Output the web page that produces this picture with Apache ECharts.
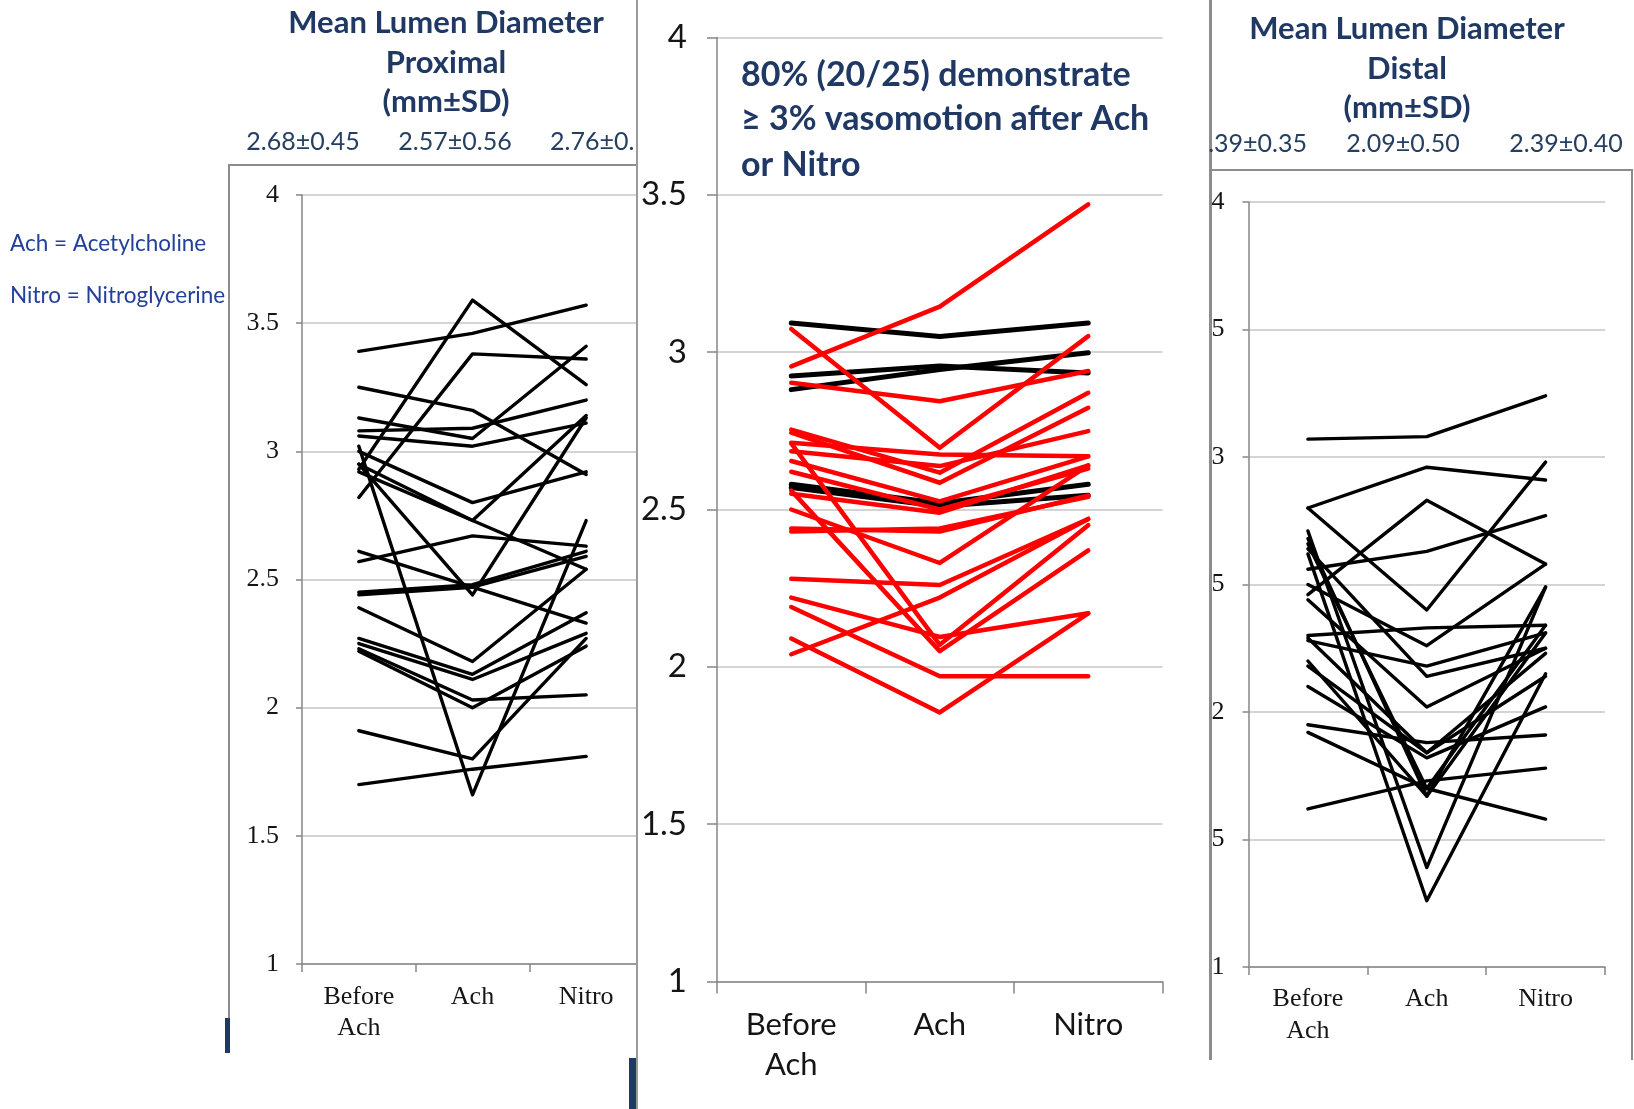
<!DOCTYPE html>
<html>
<head>
<meta charset="utf-8">
<script src="https://cdn.jsdelivr.net/npm/echarts/dist/echarts.min.js"></script>
<style>
  html, body { margin: 0; padding: 0; background: #fff; width: 1634px; height: 1109px; overflow: hidden; position: relative; }
  #proximal { position: absolute; left: 0; top: 0; width: 636px; height: 1109px; z-index: 1; }
  #response { position: absolute; left: 636px; top: 0; width: 573px; height: 1109px; z-index: 2; background: #fff; }
  #distal   { position: absolute; left: 1209px; top: 0; width: 425px; height: 1109px; z-index: 1; }
</style>
</head>
<body>
<div id="proximal"></div>
<div id="response"></div>
<div id="distal"></div>
<script>
// Measurement stages shared by all three panels
const stages = ['Before\nAch', 'Ach', 'Nitro'];

// Proximal segment, one entry per patient (mm)
const proxBefore = [3.39, 3.25, 3.13, 3.08, 3.06, 2.82, 2.93, 3.00, 2.95, 2.92, 2.95, 3.02, 2.61, 2.57, 2.45, 2.44, 2.39, 2.27, 2.25, 2.23, 2.22, 1.91, 1.70];
const proxAch    = [3.46, 3.16, 3.05, 3.09, 3.02, 3.38, 3.59, 2.80, 2.73, 2.73, 2.44, 1.66, 2.47, 2.67, 2.48, 2.47, 2.18, 2.13, 2.11, 2.03, 2.00, 1.80, 1.76];
const proxNitro  = [3.57, 2.91, 3.41, 3.20, 3.11, 3.36, 3.26, 2.92, 3.14, 2.54, 3.13, 2.73, 2.33, 2.63, 2.61, 2.59, 2.54, 2.37, 2.29, 2.05, 2.24, 2.27, 1.81];
const proxStats  = ['2.68\u00b10.45', '2.57\u00b10.56', '2.76\u00b10.'];

// Vasomotion panel: 1 = responder (>= 3% change), 0 = non-responder
const midBefore = [3.093, 2.924, 2.881, 2.955, 3.074, 2.903, 2.04, 2.09, 2.19, 2.22, 2.28, 2.43, 2.50, 2.71, 2.56, 2.44, 2.754, 2.744, 2.685, 2.654, 2.712, 2.55, 2.62, 2.58, 2.57];
const midAch    = [3.05, 2.956, 2.945, 3.145, 2.696, 2.844, 2.22, 1.855, 1.97, 2.095, 2.26, 2.44, 2.33, 2.07, 2.05, 2.43, 2.617, 2.585, 2.638, 2.526, 2.675, 2.49, 2.50, 2.52, 2.51];
const midNitro  = [3.093, 2.934, 2.998, 3.47, 3.051, 2.94, 2.47, 2.17, 1.97, 2.17, 2.47, 2.54, 2.64, 2.45, 2.37, 2.545, 2.871, 2.823, 2.749, 2.669, 2.669, 2.64, 2.63, 2.58, 2.545];
const responder = [0, 0, 0, 1, 1, 1, 1, 1, 1, 1, 1, 1, 1, 1, 1, 1, 1, 1, 1, 1, 1, 1, 1, 0, 0];
const midNote   = ['80% (20/25) demonstrate', '\u2265 3% vasomotion after Ach', 'or Nitro'];

// Distal segment, one entry per patient (mm)
const distBefore = [3.07, 2.80, 2.80, 2.46, 2.56, 2.71, 2.62, 2.50, 2.30, 2.28, 2.44, 2.18, 2.10, 1.95, 1.92, 1.62, 2.68, 2.66, 2.64, 2.20, 2.29];
const distAch    = [3.08, 2.96, 2.40, 2.83, 2.63, 1.39, 1.26, 2.26, 2.33, 2.18, 2.02, 1.84, 1.82, 1.88, 1.70, 1.73, 1.67, 1.70, 2.14, 1.67, 1.84];
const distNitro  = [3.24, 2.91, 2.98, 2.58, 2.77, 2.49, 2.15, 2.58, 2.34, 2.31, 2.25, 2.23, 2.02, 1.91, 1.58, 1.78, 2.49, 2.34, 2.25, 2.31, 2.14];
const distStats  = ['2.39\u00b10.35', '2.09\u00b10.50', '2.39\u00b10.40'];

const titleColor = '#1f3864';
const statColor = '#263f61';
const noteColor = '#23409a';
const boxColor = '#8c8c8c';

function text(x, y, str, font, fill, align) {
  const a = align || 'center';
  return {
    type: 'text', x: x, y: y, silent: true, z: 10,
    style: { text: str, font: font, fill: fill, align: a, verticalAlign: 'middle', textAlign: a, textVerticalAlign: 'middle' }
  };
}
function line(x1, y1, x2, y2, color, w) {
  return { type: 'line', silent: true, z: 1, shape: { x1: x1, y1: y1, x2: x2, y2: y2 }, style: { stroke: color, lineWidth: w } };
}
function rect(x, y, w, h, fill) {
  return { type: 'rect', silent: true, z: 1, shape: { x: x, y: y, width: w, height: h }, style: { fill: fill } };
}

function buildSeries(before, ach, nitro, colorOf, widthOf) {
  return before.map(function (b, i) {
    return {
      type: 'line', data: [b, ach[i], nitro[i]], symbol: 'none', silent: true,
      z: 3 + (colorOf(i) === '#ff0000' ? 1 : 0),
      lineStyle: { color: colorOf(i), width: widthOf(i), cap: 'round', join: 'round' }
    };
  });
}

function axes(cfg) {
  return {
    xAxis: {
      type: 'category', data: stages, boundaryGap: true,
      axisLine: { show: true, lineStyle: { color: '#868686', width: 1.5 } },
      axisTick: { show: true, length: cfg.xTick, alignWithLabel: false, lineStyle: { color: '#868686', width: 1.5 } },
      axisLabel: { interval: 0, fontFamily: cfg.font, fontSize: cfg.size, lineHeight: cfg.lh, color: '#151515', margin: cfg.xMargin }
    },
    yAxis: {
      type: 'value', min: 1, max: 4, interval: 0.5,
      axisLine: { show: true, lineStyle: { color: '#868686', width: 1.5 } },
      axisTick: { show: true, length: cfg.yTick, lineStyle: { color: '#868686', width: 1.5 } },
      splitLine: { show: true, lineStyle: { color: '#c6c6c6', width: 1.5 } },
      axisLabel: { fontFamily: cfg.font, fontSize: cfg.ySize || cfg.size, color: '#151515', margin: cfg.yMargin }
    }
  };
}

function grid(left, top, width, height) {
  return { left: left, top: top, width: width, height: height, containLabel: false, outerBoundsMode: 'none' };
}

// ---- Proximal panel ----
const proxAxes = axes({ font: 'Liberation Serif', size: 26, lh: 31, xMargin: 18, yMargin: 23, xTick: 8, yTick: 6 });
const proximal = echarts.init(document.getElementById('proximal'), null, { renderer: 'canvas' });
proximal.setOption({
  animation: false,
  grid: grid(302, 195, 341, 769),
  xAxis: proxAxes.xAxis,
  yAxis: proxAxes.yAxis,
  series: buildSeries(proxBefore, proxAch, proxNitro, function () { return '#000000'; }, function () { return 3.4; }),
  graphic: [
    line(229, 165, 229, 1053, boxColor, 2),
    line(228, 165, 636, 165, boxColor, 2),
    rect(225, 1018, 5, 35, '#1f3864'),
    rect(629, 1058, 7, 51, '#1f3864'),
    text(446, 23, 'Mean Lumen Diameter', 'bold 31px Lato', titleColor),
    text(446, 62.5, 'Proximal', 'bold 31px Lato', titleColor),
    text(446, 102, '(mm\u00b1SD)', 'bold 31px Lato', titleColor),
    text(303, 142, proxStats[0], '25px Lato', statColor),
    text(455, 142, proxStats[1], '25px Lato', statColor),
    text(550, 142, proxStats[2], '25px Lato', statColor, 'left'),
    text(10, 244, 'Ach = Acetylcholine', '22.5px Lato', noteColor, 'left'),
    text(10, 296, 'Nitro = Nitroglycerine', '22.5px Lato', noteColor, 'left')
  ]
});

// ---- Vasomotion response panel ----
const midAxes = axes({ font: 'Lato', size: 31, ySize: 33, lh: 40, xMargin: 23, yMargin: 30, xTick: 12, yTick: 10 });
const response = echarts.init(document.getElementById('response'), null, { renderer: 'canvas' });
response.setOption({
  animation: false,
  grid: grid(81, 37.5, 445.5, 944),
  xAxis: midAxes.xAxis,
  yAxis: midAxes.yAxis,
  series: buildSeries(midBefore, midAch, midNitro,
    function (i) { return responder[i] ? '#ff0000' : '#000000'; },
    function (i) { return responder[i] ? 4.5 : 5; }),
  graphic: [
    line(1, 0, 1, 1109, '#9a9a9a', 2),
    text(105, 75, midNote[0], 'bold 34px Lato', titleColor, 'left'),
    text(105, 119, midNote[1], 'bold 34px Lato', titleColor, 'left'),
    text(105, 165, midNote[2], 'bold 34px Lato', titleColor, 'left')
  ]
});

// ---- Distal panel ----
const distAxes = axes({ font: 'Liberation Serif', size: 26, lh: 32, xMargin: 16, yMargin: 24, xTick: 8, yTick: 6 });
const distal = echarts.init(document.getElementById('distal'), null, { renderer: 'canvas' });
distal.setOption({
  animation: false,
  grid: grid(39.5, 202, 356.5, 765),
  xAxis: distAxes.xAxis,
  yAxis: distAxes.yAxis,
  series: buildSeries(distBefore, distAch, distNitro, function () { return '#000000'; }, function () { return 3.4; }),
  graphic: [
    line(1.5, 0, 1.5, 1060, boxColor, 3),
    line(0, 170, 424, 170, boxColor, 2),
    line(423, 170, 423, 1060, boxColor, 2),
    text(198, 29, 'Mean Lumen Diameter', 'bold 31px Lato', titleColor),
    text(198, 69, 'Distal', 'bold 31px Lato', titleColor),
    text(198, 108, '(mm\u00b1SD)', 'bold 31px Lato', titleColor),
    text(98, 144, distStats[0], '25px Lato', statColor, 'right'),
    text(194, 144, distStats[1], '25px Lato', statColor),
    text(357, 144, distStats[2], '25px Lato', statColor)
  ]
});
</script>
</body>
</html>
